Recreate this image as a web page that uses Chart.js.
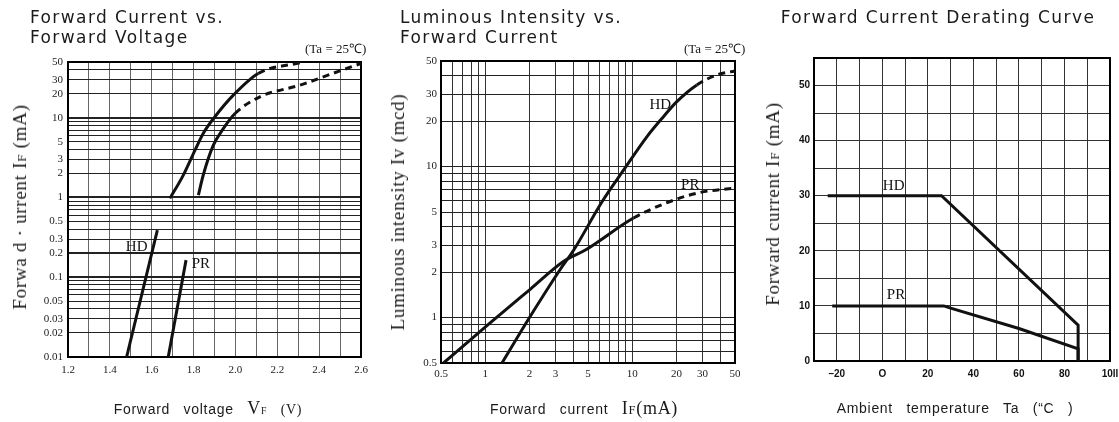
<!DOCTYPE html>
<html>
<head>
<meta charset="utf-8">
<script src="https://cdn.jsdelivr.net/npm/chart.js@4.4.0/dist/chart.umd.min.js"></script>
<style>
  body { margin: 0; background: #fff; }
  #page { position: relative; width: 1119px; height: 422px; overflow: hidden; color: #1a1a1a; }
  canvas { position: absolute; top: 0; }
  .txt { position: absolute; white-space: nowrap; }
  .title { font-family: "DejaVu Sans"; font-size: 17px; line-height: 20px; letter-spacing: 1.4px; }
  .cond { font-family: "Liberation Serif"; font-size: 13px; }
  .ytitle { font-family: "Liberation Serif"; font-size: 19px; transform: translate(-50%, -50%) rotate(-90deg); letter-spacing: 0.7px; }
  .xtitle { font-family: "Liberation Sans"; font-size: 14px; transform: translate(-50%, -50%); word-spacing: 9px; letter-spacing: 0.7px; }
  .ser { font-family: "Liberation Serif"; }
  .sub { font-size: 70%; }
</style>
</head>
<body>
<div id="page">
  <canvas id="fwdVolt" width="375" height="422" style="left:0"></canvas>
  <canvas id="lumCur" width="375" height="422" style="left:375px"></canvas>
  <canvas id="derate" width="369" height="422" style="left:750px"></canvas>

  <div class="txt title" style="left:30px; top:7px">Forward Current vs.<br>Forward Voltage</div>
  <div class="txt cond" style="left:305px; top:39px">(Ta = 25℃)</div>
  <div class="txt ytitle" style="left:20px; top:207px">Forwa d · urrent I<span class="sub">F</span> (mA)</div>
  <div class="txt xtitle" style="left:208px; top:408px">Forward voltage <span class="ser" style="font-size:18px">V</span><span class="ser sub">F</span> <span class="ser">(V)</span></div>

  <div class="txt title" style="left:400px; top:7px">Luminous Intensity vs.<br>Forward Current</div>
  <div class="txt cond" style="left:684px; top:39px">(Ta = 25℃)</div>
  <div class="txt ytitle" style="left:398px; top:212px">Luminous intensity Iv (mcd)</div>
  <div class="txt xtitle" style="left:584px; top:408px">Forward current <span class="ser" style="font-size:18px; word-spacing:0">I<span class="sub">F</span>(mA)</span></div>

  <div class="txt title" style="left:938px; top:7px; transform:translateX(-50%)">Forward Current Derating Curve</div>
  <div class="txt ytitle" style="left:773px; top:204px">Forward current I<span class="sub">F</span> (mA)</div>
  <div class="txt xtitle" style="left:955px; top:408px">Ambient temperature Ta (“C )</div>
</div>
<script>
// Forward current vs forward voltage
const vfTicks = [1.2, 1.3, 1.4, 1.5, 1.6, 1.7, 1.8, 1.9, 2.0, 2.1, 2.2, 2.3, 2.4, 2.5, 2.6];
const vfLabels = [1.2, 1.4, 1.6, 1.8, 2.0, 2.2, 2.4, 2.6];
const ifTicks = [0.01, 0.02, 0.03, 0.04, 0.05, 0.06, 0.07, 0.08, 0.09, 0.1, 0.2, 0.3, 0.4, 0.5, 0.6, 0.7, 0.8, 0.9,
                 1, 2, 3, 4, 5, 6, 7, 8, 9, 10, 20, 30, 40, 50];
const ifLabels = [0.01, 0.02, 0.03, 0.05, 0.1, 0.2, 0.3, 0.5, 1, 2, 3, 5, 10, 20, 30, 50];
const ifHeavy = [0.1, 0.2, 1, 10];

const hdLowVf = [1.48, 1.627];
const hdLowIf = [0.01, 0.39];
const prLowVf = [1.679, 1.764];
const prLowIf = [0.01, 0.164];
const hdVf = [1.687, 1.751, 1.807, 1.846, 1.902, 1.99, 2.109, 2.31];
const hdIf = [0.975, 1.91, 3.93, 6.36, 10.3, 19.2, 35.9, 49];
const hdDashFrom = 6;
const prVf = [1.823, 1.846, 1.894, 1.942, 1.998, 2.117, 2.308, 2.466, 2.6];
const prIf = [1.07, 1.9, 4.5, 7.3, 11.3, 18.3, 25.6, 36, 48];
const prDashFrom = 4;

// Luminous intensity vs forward current
const lumTicks = [0.5, 0.6, 0.7, 0.8, 0.9, 1, 2, 3, 4, 5, 6, 7, 8, 9, 10, 20, 30, 40, 50];
const lumLabels = [0.5, 1, 2, 3, 5, 10, 20, 30, 50];
const hdLumIf = [1.3, 2.0, 3.2, 4.0, 6.2, 8.75, 12.6, 16.3, 20.1, 27.5, 37.6, 50];
const hdLumIv = [0.5, 1.0, 2.05, 2.8, 5.8, 9.5, 15.8, 21.4, 26.9, 34.7, 40.4, 43];
const hdLumDashFrom = 9;
const prLumIf = [0.52, 1.05, 2.04, 3.4, 4.8, 10.2, 18.1, 29, 50];
const prLumIv = [0.5, 0.9, 1.55, 2.35, 2.8, 4.56, 5.87, 6.74, 7.2];
const prLumDashFrom = 5;

// Derating curve
const taTicks = [-30, -20, -10, 0, 10, 20, 30, 40, 50, 60, 70, 80, 90, 100];
const taLabelAt = [-20, 0, 20, 40, 60, 80, 100];
const taLabelText = ['–20', 'O', '20', '40', '60', '80', '10ll'];
const derTicks = [0, 5, 10, 15, 20, 25, 30, 35, 40, 45, 50, 55];
const derLabels = [0, 10, 20, 30, 40, 50];
const hdTa = [-24, 26, 86, 86];
const hdDer = [30, 30, 6.5, 0];
const prTa = [-22, 27, 30, 60, 86, 86];
const prDer = [10, 10, 9.6, 5.9, 2.2, 0];

const pts = (xs, ys) => xs.map((x, i) => ({ x: x, y: ys[i] }));
const setTicks = list => scale => { scale.ticks = list.map(v => ({ value: v })); };
const has = (list, v) => list.some(l => Math.abs(l - v) < 1e-9);

const framePlugin = {
  id: 'frame',
  beforeDatasetsDraw(chart) {
    const a = chart.chartArea, ctx = chart.ctx;
    ctx.save();
    ctx.strokeStyle = '#000';
    ctx.lineWidth = 2;
    ctx.strokeRect(a.left, a.top, a.right - a.left, a.bottom - a.top);
    ctx.restore();
  }
};

const curveText = {
  id: 'curveText',
  afterDatasetsDraw(chart, args, opts) {
    const ctx = chart.ctx, x = chart.scales.x, y = chart.scales.y;
    ctx.save();
    ctx.font = opts.font;
    ctx.fillStyle = '#111';
    ctx.textAlign = 'center';
    ctx.textBaseline = 'middle';
    opts.items.forEach(it => ctx.fillText(it.text, x.getPixelForValue(it.x), y.getPixelForValue(it.y)));
    ctx.restore();
  }
};

function curve(data, dashFrom, width) {
  return {
    data: data,
    borderColor: '#111',
    borderWidth: width || 3,
    pointRadius: 0,
    fill: false,
    cubicInterpolationMode: dashFrom === null ? 'default' : 'monotone',
    tension: 0,
    segment: {
      borderDash: ctx => (dashFrom !== null && ctx.p0DataIndex >= dashFrom) ? [7, 5] : undefined
    }
  };
}

// builds the fixed-size plot area for a canvas
function frameLayout(top, right, yWidth, xHeight) {
  return {
    padding: { top: top, right: right, left: 0, bottom: 0 },
    yFit: s => { s.width = yWidth; s.paddingTop = 0; s.paddingBottom = 0; },
    xFit: s => { s.height = xHeight; s.paddingLeft = 0; s.paddingRight = 0; }
  };
}

const serifTick = { family: 'Liberation Serif', size: 11 };

// chart 1
const l1 = frameLayout(62, 14, 68, 65);
new Chart(document.getElementById('fwdVolt'), {
  type: 'line',
  data: {
    datasets: [
      curve(pts(hdLowVf, hdLowIf), null),
      curve(pts(prLowVf, prLowIf), null),
      curve(pts(hdVf, hdIf), hdDashFrom),
      curve(pts(prVf, prIf), prDashFrom)
    ]
  },
  options: {
    responsive: false,
    animation: false,
    layout: { padding: l1.padding },
    plugins: {
      legend: { display: false },
      tooltip: { enabled: false },
      curveText: { font: '15px "Liberation Serif"', items: [{ x: 1.528, y: 0.24, text: 'HD' }, { x: 1.835, y: 0.146, text: 'PR' }] }
    },
    scales: {
      x: {
        type: 'linear', min: 1.2, max: 2.6,
        afterBuildTicks: setTicks(vfTicks), afterFit: l1.xFit,
        grid: { color: '#666', lineWidth: 1, drawTicks: false },
        border: { display: false },
        ticks: { autoSkip: false, maxRotation: 0, padding: 7, color: '#222', font: serifTick,
                 callback: v => has(vfLabels, v) ? v.toFixed(1) : '' }
      },
      y: {
        type: 'logarithmic', min: 0.01, max: 50,
        afterBuildTicks: setTicks(ifTicks), afterFit: l1.yFit,
        grid: { color: '#222', lineWidth: c => has(ifHeavy, c.tick.value) ? 2 : 1, drawTicks: false },
        border: { display: false },
        ticks: { autoSkip: false, padding: 5, color: '#222', font: serifTick,
                 callback: v => has(ifLabels, v) ? String(v) : '' }
      }
    }
  },
  plugins: [framePlugin, curveText]
});

// chart 2
const l2 = frameLayout(61, 15, 66, 59);
new Chart(document.getElementById('lumCur'), {
  type: 'line',
  data: {
    datasets: [
      curve(pts(hdLumIf, hdLumIv), hdLumDashFrom),
      curve(pts(prLumIf, prLumIv), prLumDashFrom)
    ]
  },
  options: {
    responsive: false,
    animation: false,
    layout: { padding: l2.padding },
    plugins: {
      legend: { display: false },
      tooltip: { enabled: false },
      curveText: { font: '15px "Liberation Serif"', items: [{ x: 15.5, y: 25.6, text: 'HD' }, { x: 24.8, y: 7.55, text: 'PR' }] }
    },
    scales: {
      x: {
        type: 'logarithmic', min: 0.5, max: 50,
        afterBuildTicks: setTicks(lumTicks), afterFit: l2.xFit,
        grid: { color: '#333', lineWidth: 1, drawTicks: false },
        border: { display: false },
        ticks: { autoSkip: false, maxRotation: 0, padding: 5, color: '#222', font: serifTick,
                 callback: v => has(lumLabels, v) ? String(v) : '' }
      },
      y: {
        type: 'logarithmic', min: 0.5, max: 50,
        afterBuildTicks: setTicks(lumTicks), afterFit: l2.yFit,
        grid: { color: '#222', lineWidth: 1, drawTicks: false },
        border: { display: false },
        ticks: { autoSkip: false, padding: 4, color: '#222', font: serifTick,
                 callback: v => has(lumLabels, v) ? String(v) : '' }
      }
    }
  },
  plugins: [framePlugin, curveText]
});

// chart 3
const l3 = frameLayout(58, 9, 64, 61);
const boldTick = { family: 'Liberation Sans', size: 10, weight: 'bold' };
new Chart(document.getElementById('derate'), {
  type: 'line',
  data: {
    datasets: [
      curve(pts(hdTa, hdDer), null),
      curve(pts(prTa, prDer), null)
    ]
  },
  options: {
    responsive: false,
    animation: false,
    layout: { padding: l3.padding },
    plugins: {
      legend: { display: false },
      tooltip: { enabled: false },
      curveText: { font: '15px "Liberation Serif"', items: [{ x: 5, y: 31.7, text: 'HD' }, { x: 6, y: 12, text: 'PR' }] }
    },
    scales: {
      x: {
        type: 'linear', min: -30, max: 100,
        afterBuildTicks: setTicks(taTicks), afterFit: l3.xFit,
        grid: { color: '#333', lineWidth: 1, drawTicks: false },
        border: { display: false },
        ticks: { autoSkip: false, maxRotation: 0, padding: 7, color: '#111', font: boldTick,
                 callback: v => { const i = taLabelAt.indexOf(v); return i < 0 ? '' : taLabelText[i]; } }
      },
      y: {
        type: 'linear', min: 0, max: 55,
        afterBuildTicks: setTicks(derTicks), afterFit: l3.yFit,
        grid: { color: '#333', lineWidth: 1, drawTicks: false },
        border: { display: false },
        ticks: { autoSkip: false, padding: 4, color: '#111', font: boldTick,
                 callback: v => derLabels.includes(v) ? String(v) : '' }
      }
    }
  },
  plugins: [framePlugin, curveText]
});
</script>
</body>
</html>
